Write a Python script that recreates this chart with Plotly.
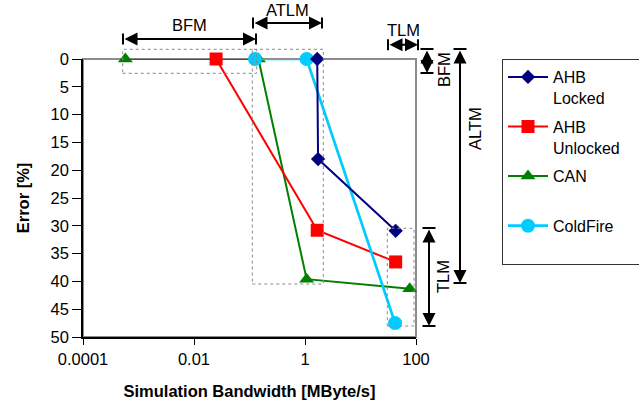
import plotly.graph_objects as go

# ---------------- data ----------------
series_names = ["AHB<br>Locked", "AHB<br>Unlocked\u00a0\u00a0\u00a0", "CAN<br>\u00a0", "ColdFire<br>\u00a0"]
ahb_locked_x = [1.66, 1.72, 43.0]
ahb_locked_y = [0, 18.0, 30.9]
ahb_unlocked_x = [0.025, 1.66, 43.0]
ahb_unlocked_y = [0, 30.8, 36.5]
can_x = [0.00058, 0.145, 1.07, 77.0]
can_y = [0, 0, 39.6, 41.3]
coldfire_x = [0.126, 1.07, 42.0]
coldfire_y = [0, 0, 47.5]

x_tick_vals = [0.0001, 0.01, 1, 100]
x_tick_text = ["0.0001", "0.01", "1", "100"]
y_tick_vals = [0, 5, 10, 15, 20, 25, 30, 35, 40, 45, 50]

FONT = "Liberation Sans, Arial, sans-serif"

# plot area in window pixels (for decorations)
L, R, T, B = 83, 416, 59, 337
W, H = 639, 404


def px(xp):
    return (xp - L) / (R - L)


def py(yp):
    return (B - yp) / (B - T)


fig = go.Figure()

styles = [
    dict(color="#000080", symbol="diamond", size=11, lw=2),
    dict(color="#FF0000", symbol="square", size=13, lw=2),
    dict(color="#008000", symbol="triangle-up", size=13, lw=2),
    dict(color="#00CCFF", symbol="circle", size=14, lw=2.7),
]
data = [
    (ahb_locked_x, ahb_locked_y),
    (ahb_unlocked_x, ahb_unlocked_y),
    (can_x, can_y),
    (coldfire_x, coldfire_y),
]
draw_order = [2, 1, 3, 0]
for i in draw_order:
    s = styles[i]
    xs, ys = data[i]
    fig.add_trace(go.Scatter(
        x=xs, y=ys, mode="lines+markers", name=series_names[i],
        legendrank=i + 1, legendgroup="g%d" % i,
        line=dict(color=s["color"], width=s["lw"]),
        marker=dict(color=s["color"], symbol=s["symbol"], size=s["size"],
                    line=dict(width=0)),
        cliponaxis=False,
    ))

shapes = []
# plot frame (gray top/right)
shapes.append(dict(type="rect", xref="paper", yref="paper", x0=0, x1=1, y0=0, y1=1,
                   line=dict(color="#8c8c8c", width=2), layer="below"))
# dotted region boxes
for (x0, x1, y0, y1) in [(122.7, 256.7, 49.3, 73.3), (252.3, 323.3, 49.3, 284),
                         (387.3, 414, 228.3, 326)]:
    shapes.append(dict(type="rect", xref="paper", yref="paper",
                       x0=px(x0), x1=px(x1), y0=py(y1), y1=py(y0),
                       line=dict(color="#8a8a8a", width=1, dash="dot")))

annotations = []


def arrow(x0, y0, x1, y1):
    annotations.append(dict(xref="paper", yref="paper", axref="pixel", ayref="pixel",
                            x=px(x1), y=py(y1), ax=x0 - x1, ay=y0 - y1, text="",
                            showarrow=True, arrowhead=2, arrowside="end+start",
                            arrowsize=1.3, arrowwidth=2, arrowcolor="black",
                            standoff=0, startstandoff=0))


def label(x, y, text, angle=0):
    annotations.append(dict(xref="paper", yref="paper", x=px(x), y=py(y),
                            text=text, showarrow=False, textangle=angle,
                            xanchor="center", yanchor="middle",
                            font=dict(size=16.5, color="black", family=FONT)))


def harrow(x0, x1, y, text, ly):
    arrow(x0, y, x1, y)
    for xe in (x0, x1):
        shapes.append(dict(type="line", xref="paper", yref="paper", x0=px(xe), x1=px(xe),
                           y0=py(y - 5.5), y1=py(y + 5.5), line=dict(color="black", width=2)))
    label((x0 + x1) / 2, ly, text)


def varrow(x, y0, y1, text, lx, ly):
    arrow(x, y0, x, y1)
    for ye in (y0, y1):
        shapes.append(dict(type="line", xref="paper", yref="paper", x0=px(x - 6.5), x1=px(x + 6.5),
                           y0=py(ye), y1=py(ye), line=dict(color="black", width=2)))
    label(lx, ly, text, -90)


harrow(123, 256, 39, "BFM", 25)
harrow(253, 322, 23, "ATLM", 10)
harrow(388, 418, 44.7, "TLM", 30)
varrow(427, 49, 73, "BFM", 444, 70)
varrow(460, 49, 283, "ALTM", 475, 128)
varrow(429, 228, 326, "TLM", 443, 277)

fig.update_layout(
    width=W, height=H,
    margin=dict(l=L, r=W - R, t=T, b=H - B, pad=0, autoexpand=False),
    paper_bgcolor="white", plot_bgcolor="white",
    font=dict(family=FONT, size=16.5, color="black"),
    shapes=shapes, annotations=annotations,
    showlegend=True,
    legend=dict(x=px(502), y=1, xanchor="left", yanchor="top",
                bordercolor="#333333", borderwidth=1, bgcolor="white",
                valign="top", itemwidth=40, tracegroupgap=5,
                font=dict(size=16, family=FONT, color="black")),
)
fig.update_xaxes(type="log", range=[-4, 2], tickvals=x_tick_vals, ticktext=x_tick_text,
                 ticks="outside", ticklen=6, tickcolor="black", showgrid=False, zeroline=False,
                 showline=True, linecolor="black", linewidth=1.5, automargin=False,
                 ticklabelstandoff=0,
                 title=dict(text="<b>Simulation Bandwidth [MByte/s]</b>", standoff=19,
                            font=dict(size=16.5)))
fig.update_yaxes(range=[50, 0], tickvals=y_tick_vals,
                 ticks="outside", ticklen=9, tickcolor="black", showgrid=False, zeroline=False,
                 showline=True, linecolor="black", linewidth=1.5, automargin=False,
                 ticklabelstandoff=0,
                 title=dict(text="<b>Error [%]</b>", standoff=17, font=dict(size=16.5)))

fig.write_html("out.html", config={"displayModeBar": False},
               post_script="document.body.style.margin='0px';")
